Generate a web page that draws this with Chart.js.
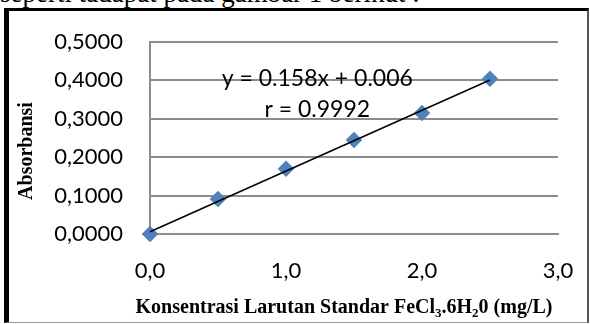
<!DOCTYPE html>
<html>
<head>
<meta charset="utf-8">
<script src="https://cdn.jsdelivr.net/npm/chart.js@4.4.1/dist/chart.umd.min.js"></script>
<style>
  html, body { margin: 0; padding: 0; background: #fff; width: 590px; height: 324px; overflow: hidden; }
  #top { position: absolute; left: 0; top: -20px; font-family: "Liberation Serif", serif; font-size: 27px; line-height: 26px; white-space: nowrap; color: #000; }
  #frame { position: absolute; left: 4px; top: 8px; width: 585px; height: 315px; box-sizing: border-box;
           border-left: 5px solid #000; border-top: 3px solid #000; border-right: 2px solid #555; border-bottom: 1.5px solid #999; background: #fff; }
  #wrap { position: absolute; left: 0; top: 0; width: 590px; height: 324px; }
</style>
</head>
<body>
<div id="top">seperti tadapat pada gambar 1 berikut :</div>
<div id="frame"></div>
<div id="wrap"><canvas id="c" width="590" height="324"></canvas></div>
<script>
// ---- data ----
const concentrations = [0.0, 0.5, 1.0, 1.5, 2.0, 2.5];
const absorbances    = [0.000, 0.091, 0.170, 0.245, 0.315, 0.404];
const trendSlope = 0.158;
const trendIntercept = 0.006;
const equationLines = ['y = 0.158x + 0.006', 'r = 0.9992'];
const xTickLabels = ['0,0', '1,0', '2,0', '3,0'];
const yTickLabels = ['0,0000', '0,1000', '0,2000', '0,3000', '0,4000', '0,5000'];
const yTitle = 'Absorbansi';
const xTitleParts = [['Konsentrasi Larutan Standar FeCl', false], ['3', true], ['.6H', false], ['2', true], ['0 (mg/L)', false]];

const points = concentrations.map((x, i) => ({ x: x, y: absorbances[i] }));
const xFirst = concentrations[0], xLast = concentrations[concentrations.length - 1];
const trendPoints = [
  { x: xFirst, y: trendSlope * xFirst + trendIntercept },
  { x: xLast,  y: trendSlope * xLast + trendIntercept }
];

const GRID = '#8c8c8c';
const tickFont = { family: 'Lato, "Open Sans", sans-serif', size: 22 };

const annotPlugin = {
  id: 'annot',
  afterDraw(chart) {
    const ctx = chart.ctx;
    const xs = chart.scales.x, ys = chart.scales.y;
    const area = chart.chartArea;
    ctx.save();
    // equation text
    ctx.fillStyle = '#000';
    ctx.font = '23px Lato, "Open Sans", sans-serif';
    ctx.textAlign = 'center';
    ctx.textBaseline = 'middle';
    ctx.fillText(equationLines[0], xs.getPixelForValue(1.23), ys.getPixelForValue(0.406));
    ctx.fillText(equationLines[1], xs.getPixelForValue(1.23), ys.getPixelForValue(0.323));
    // y title
    ctx.font = 'bold 20px "Liberation Serif", serif';
    ctx.translate(27, (area.top + area.bottom) / 2 + 13);
    ctx.rotate(-Math.PI / 2);
    ctx.textAlign = 'center';
    ctx.textBaseline = 'middle';
    ctx.fillText(yTitle, 0, 0);
    ctx.restore();

    // x title with subscripts
    ctx.save();
    ctx.fillStyle = '#000';
    const big = 'bold 20px "Liberation Serif", serif';
    const small = 'bold 13px "Liberation Serif", serif';
    let total = 0;
    xTitleParts.forEach(([t, sub]) => { ctx.font = sub ? small : big; total += ctx.measureText(t).width; });
    let x = (area.left + area.right) / 2 - 10 - total / 2;
    const baseY = 313;
    ctx.textBaseline = 'alphabetic';
    ctx.textAlign = 'left';
    xTitleParts.forEach(([t, sub]) => {
      ctx.font = sub ? small : big;
      ctx.fillText(t, x, sub ? baseY + 4 : baseY);
      x += ctx.measureText(t).width;
    });
    ctx.restore();
  }
};

new Chart(document.getElementById('c'), {
  type: 'scatter',
  data: {
    datasets: [
      {
        type: 'line',
        data: trendPoints,
        borderColor: '#000',
        borderWidth: 1.5,
        pointRadius: 0,
        fill: false,
        clip: false,
        order: 0
      },
      {
        data: points,
        pointStyle: 'rectRot',
        pointRadius: 8,
        pointHoverRadius: 8,
        backgroundColor: '#4F81BD',
        borderColor: '#4a7ab3',
        borderWidth: 0.5,
        clip: false,
        order: 1
      }
    ]
  },
  options: {
    responsive: false,
    animation: false,
    events: [],
    layout: { padding: { left: 0, right: 32, top: 42, bottom: 0 } },
    plugins: { legend: { display: false }, tooltip: { enabled: false } },
    scales: {
      x: {
        type: 'linear', min: 0, max: 3,
        afterFit(s) { s.height = 90; s.paddingLeft = 0; s.paddingRight = 0; },
        afterBuildTicks(s) { s.ticks = xTickLabels.map((_, i) => ({ value: i })); },
        ticks: { stepSize: 1, padding: 24, color: '#000', font: tickFont,
                 callback: (v, i) => xTickLabels[i] },
        grid: { display: false, drawTicks: false },
        border: { display: true, color: GRID, width: 2 }
      },
      y: {
        type: 'linear', min: 0, max: 0.5,
        afterFit(s) { s.width = 150; s.paddingTop = 0; s.paddingBottom = 0; },
        afterBuildTicks(s) { s.ticks = yTickLabels.map((_, i) => ({ value: i / 10 })); },
        ticks: { stepSize: 0.1, padding: 27, color: '#000', font: tickFont,
                 callback: (v, i) => yTickLabels[i] },
        grid: { color: GRID, lineWidth: 2, drawTicks: false },
        border: { display: true, color: GRID, width: 2 }
      }
    }
  },
  plugins: [annotPlugin]
});
</script>
</body>
</html>
